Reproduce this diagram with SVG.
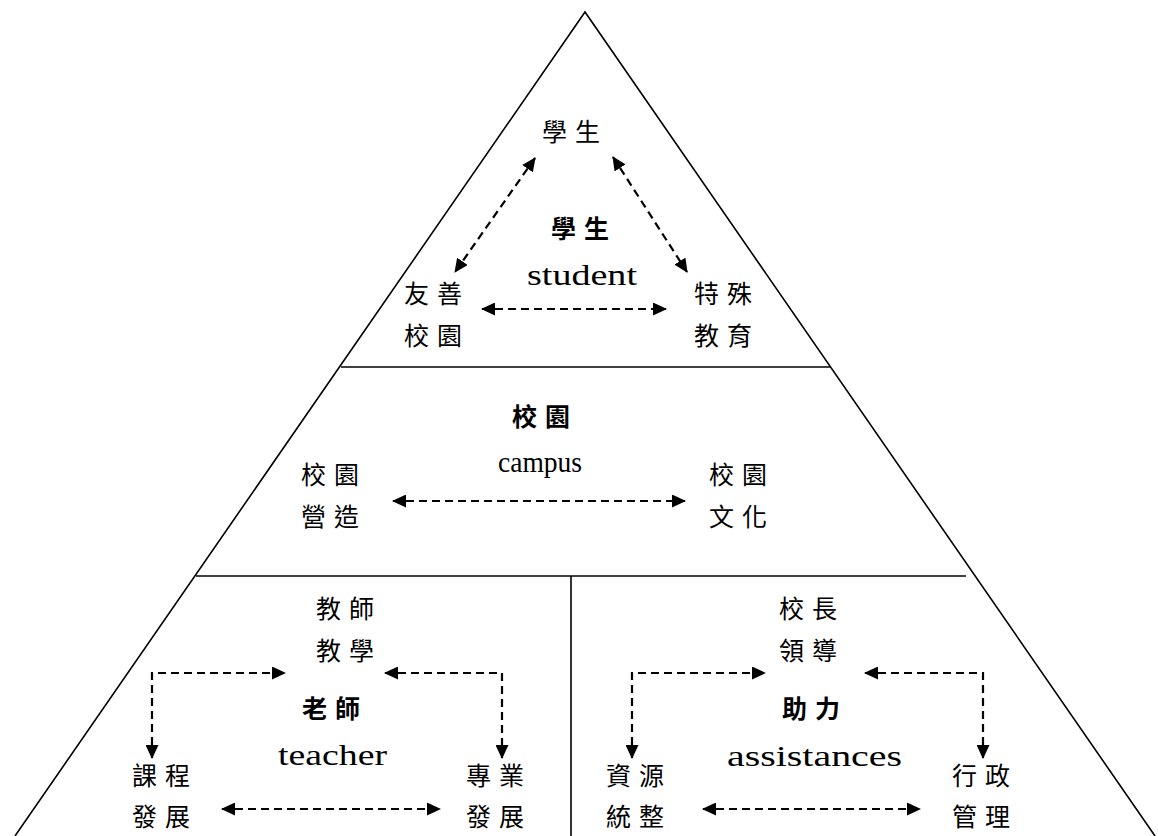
<svg xmlns="http://www.w3.org/2000/svg" width="1158" height="836" viewBox="0 0 1158 836">
<style>
.frame{fill:none;stroke:#000;stroke-width:1.6}
.con{fill:none;stroke:#000;stroke-width:2.2;stroke-dasharray:8 5;marker-start:url(#ah);marker-end:url(#ah)}
.zh{font-family:"Noto Sans CJK TC","Noto Sans CJK SC",sans-serif;font-size:25px;letter-spacing:8px;fill:#000}
.zhb{font-family:"Noto Sans CJK TC","Noto Sans CJK SC",sans-serif;font-size:25px;letter-spacing:8px;font-weight:700;fill:#000}
.en{font-family:"Liberation Serif",serif;font-size:29px;fill:#000}
</style>
<defs>
<marker id="ah" markerUnits="userSpaceOnUse" markerWidth="14" markerHeight="13" refX="13" refY="6.5" orient="auto-start-reverse" viewBox="0 0 14 13">
<path d="M0,0 L14,6.5 L0,13 z" fill="#000"/>
</marker>
</defs>
<rect width="1158" height="836" fill="#fff"/>
<g id="pyramid">
<polyline class="frame" points="15,836 585,12 1155,836"/>
<line class="frame" x1="341" y1="367" x2="830" y2="367"/>
<line class="frame" x1="196" y1="576" x2="966" y2="576"/>
<line class="frame" x1="571" y1="576" x2="571" y2="836"/>
</g>
<g id="connectors">
<path class="con" d="M535,158 L455,272"/>
<path class="con" d="M613,157 L687,272"/>
<path class="con" d="M482,309 L666,309"/>
<path class="con" d="M393,501 L685,501"/>
<path class="con" d="M152,758 L152,673 L285,673"/>
<path class="con" d="M385,673 L502,673 L502,758"/>
<path class="con" d="M222,809 L440,809"/>
<path class="con" d="M632,758 L632,673 L765,673"/>
<path class="con" d="M865,673 L983,673 L983,758"/>
<path class="con" d="M703,809 L920,809"/>
</g>
<g id="student">
<text class="zh" x="542" y="141">學生</text>
<text class="zhb" x="551" y="238">學生</text>
<text class="en" x="527" y="285" textLength="110" lengthAdjust="spacingAndGlyphs">student</text>
<text class="zh" x="404" y="303">友善</text>
<text class="zh" x="404" y="345">校園</text>
<text class="zh" x="694" y="303">特殊</text>
<text class="zh" x="694" y="345">教育</text>
</g>
<g id="campus">
<text class="zhb" x="512" y="426">校園</text>
<text class="en" x="498" y="472" textLength="84" lengthAdjust="spacingAndGlyphs">campus</text>
<text class="zh" x="301" y="484">校園</text>
<text class="zh" x="301" y="526">營造</text>
<text class="zh" x="709" y="484">校園</text>
<text class="zh" x="709" y="526">文化</text>
</g>
<g id="teacher">
<text class="zh" x="316" y="618">教師</text>
<text class="zh" x="316" y="660">教學</text>
<text class="zhb" x="302" y="718">老師</text>
<text class="en" x="278" y="765" textLength="109" lengthAdjust="spacingAndGlyphs">teacher</text>
<text class="zh" x="132" y="785">課程</text>
<text class="zh" x="132" y="826">發展</text>
<text class="zh" x="466" y="785">專業</text>
<text class="zh" x="466" y="826">發展</text>
</g>
<g id="assistances">
<text class="zh" x="779" y="618">校長</text>
<text class="zh" x="779" y="660">領導</text>
<text class="zhb" x="782" y="718">助力</text>
<text class="en" x="727" y="766" textLength="175" lengthAdjust="spacingAndGlyphs">assistances</text>
<text class="zh" x="606" y="785">資源</text>
<text class="zh" x="606" y="826">統整</text>
<text class="zh" x="952" y="785">行政</text>
<text class="zh" x="952" y="826">管理</text>
</g>
</svg>
